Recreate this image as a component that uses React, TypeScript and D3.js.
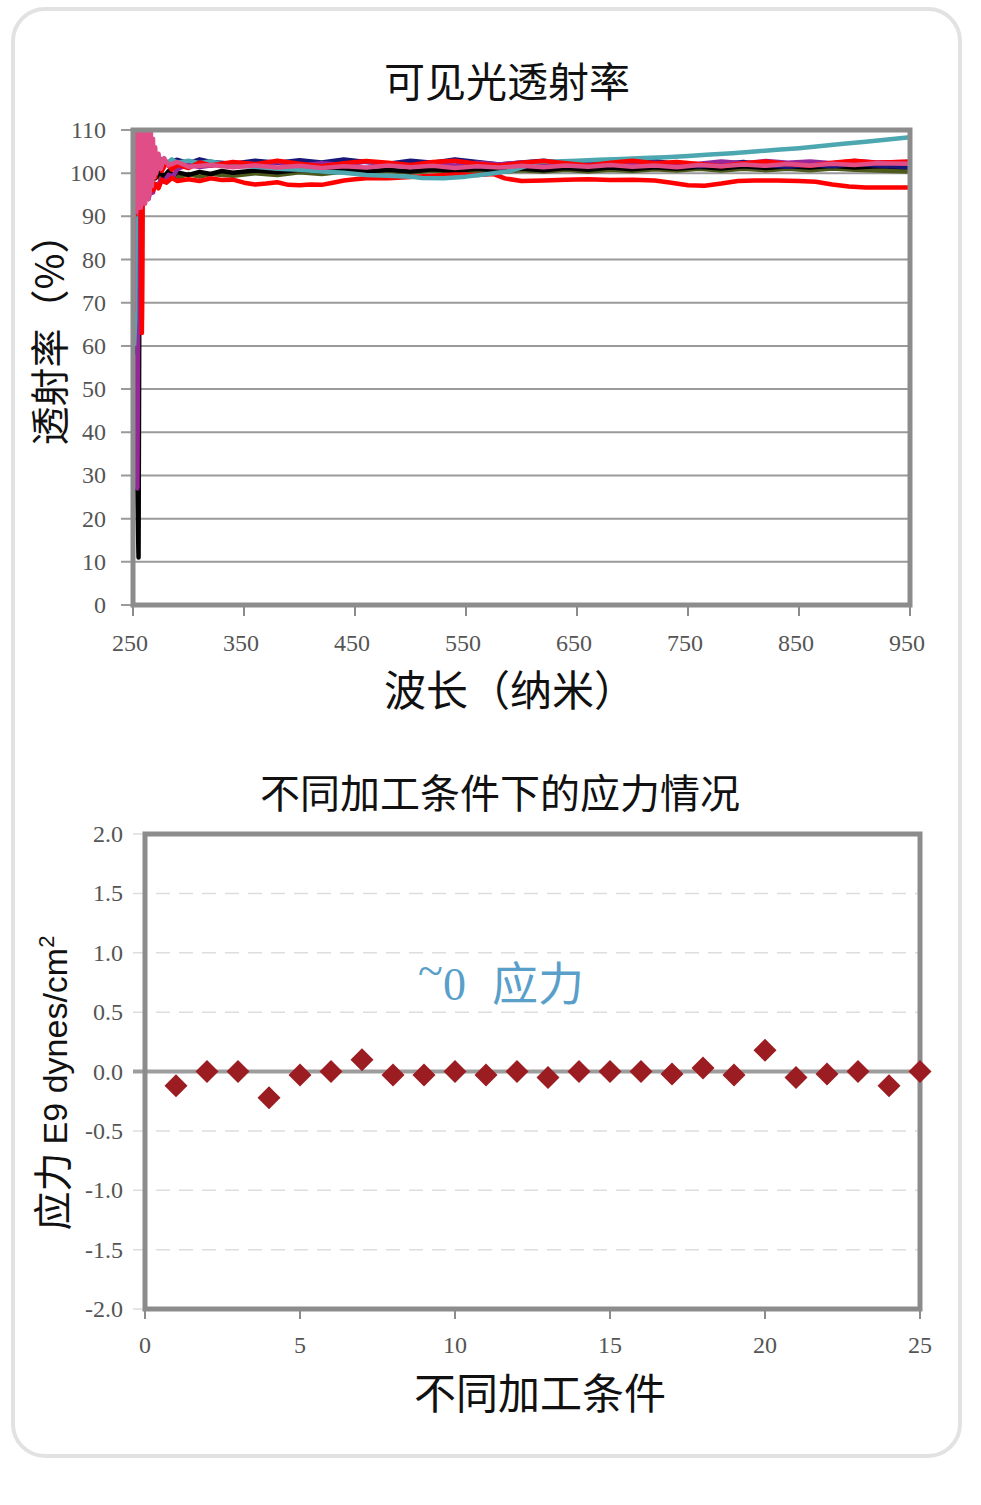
import React from "react";
import * as d3 from "d3";

// ---------- Top chart data (wavelength nm, transmittance %) ----------
const wlTicks = [250, 350, 450, 550, 650, 750, 850, 950];
const tTicks = [0, 10, 20, 30, 40, 50, 60, 70, 80, 90, 100, 110];

const seriesRedLow: [number, number][] = [
  [251, 70], [252, 112], [253, 94], [254, 112], [255, 95], [256, 112], [257, 94], [258, 63], [259, 112], [260, 93],
  [261, 110], [262, 94], [263, 108], [264, 95], [266, 104], [268, 96], [270, 97.5], [273, 96.5], [276, 98.5], [280, 97.8],
  [285, 98.9], [290, 98.2], [300, 98.6], [310, 98.2], [320, 98.8], [330, 98.4], [340, 98.5], [350, 97.8], [360, 97.4],
  [370, 97.6], [380, 97.9], [390, 97.3], [400, 97.2], [410, 97.4], [420, 97.3], [430, 97.8], [440, 98.3], [450, 98.6],
  [460, 98.8], [480, 98.8], [500, 99.1], [520, 99.4], [540, 99.7], [560, 99.6], [575, 99.8], [585, 98.8], [600, 98.2],
  [620, 98.3], [640, 98.5], [660, 98.6], [680, 98.4], [700, 98.5], [720, 98.3], [735, 97.8], [750, 97.2], [765, 97.1],
  [780, 97.6], [795, 98.2], [810, 98.3], [830, 98.3], [850, 98.2], [865, 98.0], [880, 97.4], [895, 96.9], [910, 96.7],
  [930, 96.7], [950, 96.7],
];

const seriesBlack: [number, number][] = [
  [251, 60], [252, 98], [253, 40], [254, 24], [255, 11], [256, 96], [257, 104], [258, 97], [260, 103], [262, 97.5],
  [264, 101], [266, 98.5], [268, 100.5], [270, 98.8], [274, 100.3], [278, 99.2], [282, 100.5], [286, 99.4], [290, 100.2],
  [300, 99.6], [310, 100.3], [320, 99.8], [330, 100.5], [340, 100.1], [360, 100.6], [380, 100.2], [400, 100.8],
  [420, 100.4], [440, 100.9], [460, 100.4], [480, 100.8], [500, 100.4], [520, 100.9], [540, 100.5], [560, 101], [580, 100.6],
  [600, 101.1], [620, 100.7], [640, 101.2], [660, 100.8], [680, 101.3], [700, 100.9], [720, 101.4], [740, 101], [760, 101.5],
  [780, 101.1], [800, 101.6], [820, 101.2], [840, 101.6], [860, 101.3], [880, 101.7], [900, 101.3], [920, 101.6], [950, 101.4],
];

const seriesOlive: [number, number][] = [
  [252, 80], [253, 104], [255, 97], [257, 103], [259, 98], [262, 101], [266, 98.5], [270, 99.8], [275, 98.6], [280, 99.6],
  [290, 99], [300, 99.8], [310, 99.2], [320, 99.8], [340, 99.4], [360, 100], [380, 99.6], [400, 100.2], [420, 99.8],
  [440, 100.4], [460, 100], [480, 100.5], [500, 100.1], [520, 100.6], [540, 100.2], [560, 100.6], [580, 100.3], [600, 100.7],
  [620, 100.4], [640, 100.8], [660, 100.4], [680, 100.8], [700, 100.5], [720, 100.9], [740, 100.6], [760, 101], [780, 100.6],
  [800, 101], [820, 100.7], [840, 101], [860, 100.7], [880, 101.1], [900, 100.8], [920, 100.6], [950, 100.4],
];

const seriesNavy: [number, number][] = [
  [251, 30], [252, 96], [253, 110], [254, 97], [256, 108], [258, 98], [260, 105], [262, 99.5], [265, 103], [270, 101.5],
  [275, 103.2], [280, 102.4], [290, 103.1], [300, 102.3], [310, 103.2], [320, 102.6], [340, 102.2], [360, 102.9],
  [380, 102.4], [400, 103], [420, 102.5], [440, 103.2], [460, 102.6], [480, 102.2], [500, 102.9], [520, 102.4], [540, 103.2],
  [560, 102.6], [580, 102], [600, 102.5], [620, 102.9], [640, 102.3], [660, 102.7], [680, 101.9], [700, 102.4], [720, 102.8],
  [740, 102.1], [760, 101.6], [780, 102.2], [800, 102.6], [820, 101.9], [840, 101.5], [860, 102], [880, 101.6], [900, 102.2],
  [920, 101.8], [950, 101.4],
];

const seriesPurple: [number, number][] = [
  [251, 58], [252, 45], [253, 30], [254, 27], [255, 88], [256, 92], [257, 94], [258, 92.5], [259, 95], [260, 93],
  [262, 95.5], [264, 94], [266, 96.5], [268, 95.5], [270, 97.5], [272, 96.8], [275, 98.5], [278, 98], [282, 99.6],
  [286, 99.2], [290, 101], [300, 102], [310, 101.4], [320, 101.8], [340, 102.3], [360, 101.8], [380, 102.6], [400, 101.7],
  [420, 102.3], [440, 101.9], [460, 102.7], [480, 102], [500, 101.6], [520, 102.1], [540, 101.8], [560, 102.4], [580, 102],
  [600, 102.5], [620, 102.1], [640, 102.4], [660, 101.9], [680, 102.3], [700, 102], [720, 102.4], [740, 101.9], [760, 102.2],
  [780, 102.7], [800, 102.3], [820, 102.8], [840, 102.4], [860, 102.7], [880, 102.3], [900, 102.8], [920, 102.5], [950, 102.6],
];

const seriesTeal: [number, number][] = [
  [251, 60], [252, 66], [253, 112], [254, 98], [256, 110], [258, 99], [260, 106], [262, 100], [265, 103.5], [270, 101.8],
  [275, 103], [280, 102.2], [285, 103.2], [290, 102.4], [300, 102.9], [310, 102.3], [320, 102.8], [330, 102.1],
  [340, 101.8], [360, 101.5], [380, 101], [400, 100.8], [420, 100.4], [440, 100.1], [460, 99.6], [480, 99.4], [500, 99.2],
  [510, 98.9], [530, 98.8], [550, 99.2], [570, 99.8], [590, 100.5], [600, 101.3], [615, 102.6], [630, 102.7], [650, 102.9],
  [670, 103.1], [690, 103.3], [710, 103.5], [730, 103.7], [750, 104], [770, 104.3], [790, 104.6], [810, 105], [830, 105.4],
  [850, 105.8], [870, 106.3], [890, 106.8], [910, 107.3], [930, 107.8], [950, 108.3],
];

const seriesRedHigh: [number, number][] = [
  [252, 90], [253, 115], [254, 96], [255, 115], [256, 97], [257, 115], [258, 66], [259, 115], [260, 97], [261, 115],
  [262, 97], [263, 114], [264, 97.5], [265, 112], [266, 98], [268, 106], [270, 99], [273, 103.5], [276, 100.5], [280, 102.4],
  [285, 100.8], [290, 102], [300, 101.2], [310, 102.5], [320, 101.8], [340, 102.6], [360, 102.1], [380, 102.9], [400, 102.2],
  [420, 101.6], [440, 102.3], [460, 102.8], [480, 102.4], [500, 101.9], [520, 102.6], [540, 102.9], [560, 102.2], [580, 101.7],
  [600, 102.4], [620, 102.8], [640, 102.3], [660, 101.8], [680, 102.4], [700, 102.9], [720, 102.3], [740, 102.6], [760, 102.1],
  [780, 101.6], [800, 102.3], [820, 102.7], [840, 102.1], [860, 101.7], [880, 102.4], [900, 102.9], [920, 102.4], [950, 102.7],
];

const seriesPink: [number, number][] = [
  [250.5, 68], [251, 115], [251.7, 91], [252.4, 115], [253, 91], [253.7, 115], [254.4, 92], [255, 115], [255.7, 92],
  [256.4, 115], [257, 92], [257.7, 115], [258.4, 93], [259, 115], [259.7, 93], [260.4, 115], [261, 93], [261.7, 115],
  [262.4, 94], [263, 114], [263.7, 94], [264.4, 113], [265, 95], [266, 111], [267, 97], [268, 108], [269, 99], [270, 106],
  [271, 100], [273, 104.5], [275, 101], [278, 103.5], [282, 101.8], [290, 102.6], [300, 101.5], [320, 101.9], [340, 101.4],
  [360, 101.8], [380, 101.3], [400, 101.7], [420, 101.2], [440, 101.6], [460, 101.3], [480, 101.8], [500, 101.4], [520, 101.7],
  [540, 101.2], [560, 101.6], [580, 101.3], [600, 101.7], [620, 101.4], [640, 101.8], [660, 101.5], [680, 101.9], [700, 101.5],
  [720, 101.8], [740, 101.4], [760, 101.9], [780, 101.6], [800, 102], [820, 101.7], [840, 102.1], [860, 101.8], [880, 102.2],
  [900, 101.9], [920, 102.3], [950, 102.2],
];

const seriesList: { data: [number, number][]; color: string }[] = [
  { data: seriesOlive, color: "#4d5a1c" },
  { data: seriesBlack, color: "#000000" },
  { data: seriesNavy, color: "#17177a" },
  { data: seriesPurple, color: "#96279a" },
  { data: seriesRedLow, color: "#ff0000" },
  { data: seriesTeal, color: "#4ca7b0" },
  { data: seriesRedHigh, color: "#ff0000" },
  { data: seriesPink, color: "#e04d87" },
];

// ---------- Bottom chart data ----------
const conditions = [1, 2, 3, 4, 5, 6, 7, 8, 9, 10, 11, 12, 13, 14, 15, 16, 17, 18, 19, 20, 21, 22, 23, 24, 25];
const stress = [-0.12, 0.0, 0.0, -0.22, -0.03, 0.0, 0.1, -0.03, -0.03, 0.0, -0.03, 0.0, -0.05, 0.0, 0.0, 0.0, -0.02, 0.03, -0.03, 0.18, -0.05, -0.02, 0.0, -0.12, 0.0];
const condTicks = [0, 5, 10, 15, 20, 25];
const stressTicks = [2.0, 1.5, 1.0, 0.5, 0.0, -0.5, -1.0, -1.5, -2.0];

const SERIF = "'Liberation Serif', 'DejaVu Serif', 'Times New Roman', serif";
const CJK = "'Noto Sans CJK SC', sans-serif";
const SANS = "'Liberation Sans', Arial, sans-serif";

export default function App() {
  const x1 = d3.scaleLinear().domain([250, 950]).range([133, 910]);
  const y1 = d3.scaleLinear().domain([0, 110]).range([605, 130]);
  const line = d3
    .line<[number, number]>()
    .x((d) => x1(d[0]))
    .y((d) => y1(d[1]));

  const x2 = d3.scaleLinear().domain([0, 25]).range([145, 920]);
  const y2 = d3.scaleLinear().domain([-2, 2]).range([1309, 834]);

  const tickColor = "#555555";
  const frame = "#8c8c8c";

  return (
    <svg width={981} height={1505} style={{ position: "absolute", left: 0, top: 0, background: "#fff" }}>
      <rect x={13} y={9} width={947} height={1447} rx={32} ry={32} fill="#fff" stroke="#e2e2e2" strokeWidth={4} />

      {/* ---------------- TOP CHART ---------------- */}
      <defs>
        <clipPath id="clipTop">
          <rect x={x1(250)} y={y1(110)} width={x1(950) - x1(250)} height={y1(0) - y1(110)} />
        </clipPath>
      </defs>
      <text x={507} y={97} textAnchor="middle" fontFamily={CJK} fontSize={41} fill="#111">
        可见光透射率
      </text>
      {tTicks.map((t) => (
        <g key={"gt" + t}>
          <line x1={121} x2={x1(950)} y1={y1(t)} y2={y1(t)} stroke="#9a9a9a" strokeWidth={2} />
          <text x={106} y={y1(t) + 8} textAnchor="end" fontFamily={SERIF} fontSize={24} fill={tickColor}>
            {t}
          </text>
        </g>
      ))}
      {wlTicks.map((w) => (
        <g key={"wx" + w}>
          <line x1={x1(w)} x2={x1(w)} y1={y1(0)} y2={y1(0) + 11} stroke={frame} strokeWidth={2} />
          <text x={x1(w) - 3} y={651} textAnchor="middle" fontFamily={SERIF} fontSize={24} fill={tickColor}>
            {w}
          </text>
        </g>
      ))}
      <g clipPath="url(#clipTop)">
        {seriesList.map((s, i) => (
          <path key={i} d={line(s.data) || ""} fill="none" stroke={s.color} strokeWidth={4.5} strokeLinejoin="round" />
        ))}
      </g>
      <rect
        x={x1(250)}
        y={y1(110)}
        width={x1(950) - x1(250)}
        height={y1(0) - y1(110)}
        fill="none"
        stroke={frame}
        strokeWidth={5}
      />
      <text x={510} y={706} textAnchor="middle" fontFamily={CJK} fontSize={42} fill="#111">
        波长（纳米）
      </text>
      <text transform="translate(64,330) rotate(-90)" textAnchor="middle" fontFamily={CJK} fontSize={39} fill="#111">
        透射率（%）
      </text>

      {/* ---------------- BOTTOM CHART ---------------- */}
      <text x={500} y={808} textAnchor="middle" fontFamily={CJK} fontSize={40} fill="#111">
        不同加工条件下的应力情况
      </text>
      {stressTicks.map((t) => (
        <g key={"st" + t}>
          {t !== 0 && (
            <line
              x1={133}
              x2={x2(25)}
              y1={y2(t)}
              y2={y2(t)}
              stroke="#dddddd"
              strokeWidth={1.5}
              strokeDasharray="14,9"
            />
          )}
          <text x={123} y={y2(t) + 8} textAnchor="end" fontFamily={SERIF} fontSize={24} fill={tickColor}>
            {t.toFixed(1)}
          </text>
        </g>
      ))}
      {condTicks.map((c) => (
        <g key={"ct" + c}>
          <line x1={x2(c)} x2={x2(c)} y1={y2(-2)} y2={y2(-2) + 10} stroke={frame} strokeWidth={2} />
          <text x={x2(c)} y={1353} textAnchor="middle" fontFamily={SERIF} fontSize={24} fill={tickColor}>
            {c}
          </text>
        </g>
      ))}
      <line x1={133} x2={x2(25)} y1={y2(0)} y2={y2(0)} stroke="#9d9d9d" strokeWidth={4} />
      <rect
        x={x2(0)}
        y={y2(2)}
        width={x2(25) - x2(0)}
        height={y2(-2) - y2(2)}
        fill="none"
        stroke={frame}
        strokeWidth={5}
      />
      <text x={418} y={1000} fontFamily={SERIF} fontSize={46} fill="#5a9fc9">
        <tspan dy={-14}>~</tspan>
        <tspan dy={14}>0</tspan>
        <tspan fontFamily={CJK} dx={26}>应力</tspan>
      </text>
      {conditions.map((c, i) => (
        <path
          key={"p" + c}
          transform={`translate(${x2(c)},${y2(stress[i])})`}
          d="M0,-11.5L11.5,0L0,11.5L-11.5,0Z"
          fill="#9b1c21"
        />
      ))}
      <text x={540} y={1409} textAnchor="middle" fontFamily={CJK} fontSize={42} fill="#111">
        不同加工条件
      </text>
      <text transform="translate(67,1083) rotate(-90)" textAnchor="middle" fill="#111">
        <tspan fontFamily={CJK} fontSize={39}>应力</tspan>
        <tspan fontFamily={SANS} fontSize={34} dx={8}>E9 dynes/cm</tspan>
        <tspan fontFamily={SANS} fontSize={22} dy={-13}>2</tspan>
      </text>
    </svg>
  );
}
